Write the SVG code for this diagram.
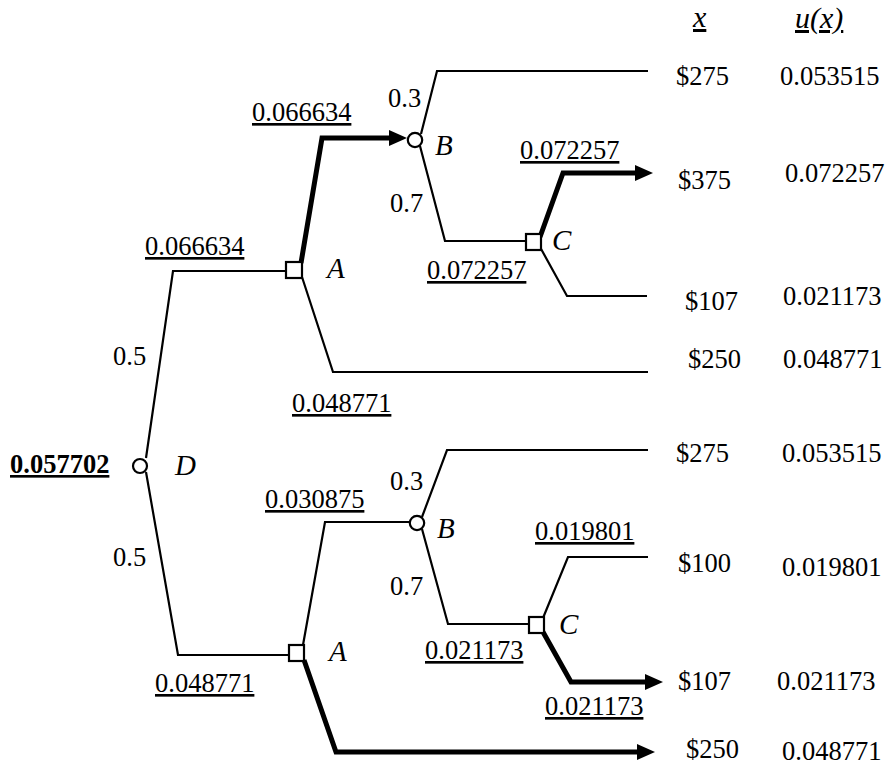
<svg xmlns="http://www.w3.org/2000/svg" width="890" height="769" viewBox="0 0 890 769">
  <defs>
    <style>
      text { font-family: "Liberation Serif", "Times New Roman", serif; font-size: 26.5px; fill: #000; }
      .u { text-decoration: underline; }
      .b { font-weight: bold; }
      .it { font-style: italic; font-size: 29px; }
      .hd { font-style: italic; font-size: 30px; }
      .thin { fill: none; stroke: #000; stroke-width: 2.2; stroke-linejoin: miter; }
      .thick { fill: none; stroke: #000; stroke-width: 5; stroke-linejoin: miter; }
      .chance { fill: #fff; stroke: #000; stroke-width: 2.2; }
      .decision { fill: #fff; stroke: #000; stroke-width: 2.2; }
    </style>
    <marker id="arrow" markerUnits="userSpaceOnUse" markerWidth="18" markerHeight="16" refX="0" refY="8" orient="auto">
      <path d="M0,0 L18,8 L0,16 Z" fill="#000"/>
    </marker>
  </defs>

  <rect width="890" height="769" fill="#fff"/>

  <!-- branches -->
  <g id="connectors">
    <!-- upper half -->
    <polyline class="thin" points="146,458 173,271 287,271"/>
    <polyline class="thin" points="302,277 333,372 648,372"/>
    <polyline class="thin" points="421,134 437,71 648,71"/>
    <polyline class="thin" points="420,146 445,241 526,241"/>
    <polyline class="thin" points="540,247 567,296 647,296"/>
    <polyline class="thick" points="301,263 322,138 389,138" marker-end="url(#arrow)"/>
    <polyline class="thick" points="540,237 563,173 635,173" marker-end="url(#arrow)"/>
    <!-- lower half -->
    <polyline class="thin" points="146,472 178,655 289,655"/>
    <polyline class="thin" points="303,645 325,522 410,522"/>
    <polyline class="thin" points="422,517 447,450 648,450"/>
    <polyline class="thin" points="422,529 448,624 529,624"/>
    <polyline class="thin" points="543,618 568,557 648,557"/>
    <polyline class="thick" points="543,632 571,682 645,682" marker-end="url(#arrow)"/>
    <polyline class="thick" points="304,660 336,752 637,752" marker-end="url(#arrow)"/>
  </g>

  <!-- root chance node -->
  <g id="node-D">
    <circle class="chance" cx="140" cy="466" r="7"/>
    <text class="it" x="175" y="475">D</text>
    <text class="b u" x="10" y="473">0.057702</text>
  </g>

  <!-- upper decision A -->
  <g id="node-A1">
    <rect class="decision" x="286" y="262" width="16" height="16"/>
    <text class="it" x="327" y="278">A</text>
  </g>
  <g id="node-B1">
    <circle class="chance" cx="415" cy="140" r="7.2"/>
    <text class="it" x="435" y="155">B</text>
  </g>
  <g id="node-C1">
    <rect class="decision" x="526" y="234" width="15" height="16"/>
    <text class="it" x="552" y="250">C</text>
  </g>

  <!-- lower decision A -->
  <g id="node-A2">
    <rect class="decision" x="289" y="645" width="15" height="16"/>
    <text class="it" x="329" y="661">A</text>
  </g>
  <g id="node-B2">
    <circle class="chance" cx="417" cy="523" r="7.2"/>
    <text class="it" x="437" y="538">B</text>
  </g>
  <g id="node-C2">
    <rect class="decision" x="529" y="617" width="15" height="16"/>
    <text class="it" x="559" y="634">C</text>
  </g>

  <!-- probabilities and rolled-back values -->
  <g id="branch-labels">
    <text x="113" y="365">0.5</text>
    <text x="113" y="566">0.5</text>
    <text class="u" x="145" y="255">0.066634</text>
    <text class="u" x="252" y="121">0.066634</text>
    <text class="u" x="292" y="412">0.048771</text>
    <text x="388" y="107">0.3</text>
    <text x="390" y="212">0.7</text>
    <text class="u" x="520" y="159">0.072257</text>
    <text class="u" x="427" y="279">0.072257</text>

    <text class="u" x="155" y="692">0.048771</text>
    <text class="u" x="265" y="508">0.030875</text>
    <text x="390" y="490">0.3</text>
    <text x="390" y="595">0.7</text>
    <text class="u" x="535" y="540">0.019801</text>
    <text class="u" x="425" y="659">0.021173</text>
    <text class="u" x="545" y="715">0.021173</text>
  </g>

  <!-- outcome table -->
  <g id="outcomes">
    <text class="hd u" x="693" y="27">x</text>
    <text class="hd u" x="795" y="28">u(x)</text>

    <text x="676" y="85">$275</text>
    <text x="780" y="85">0.053515</text>
    <text x="678" y="189">$375</text>
    <text x="785" y="182">0.072257</text>
    <text x="685" y="310">$107</text>
    <text x="783" y="305">0.021173</text>
    <text x="688" y="368">$250</text>
    <text x="783" y="368">0.048771</text>

    <text x="676" y="462">$275</text>
    <text x="782" y="462">0.053515</text>
    <text x="678" y="572">$100</text>
    <text x="782" y="576">0.019801</text>
    <text x="678" y="690">$107</text>
    <text x="777" y="690">0.021173</text>
    <text x="686" y="758">$250</text>
    <text x="782" y="760">0.048771</text>
  </g>
</svg>
